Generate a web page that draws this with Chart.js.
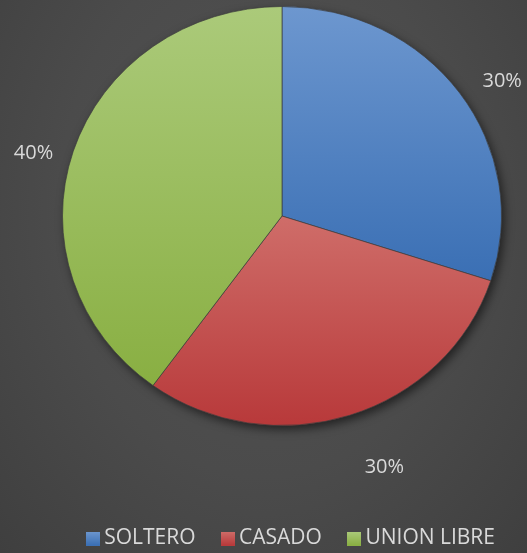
<!DOCTYPE html>
<html>
<head>
<meta charset="utf-8">
<script src="https://cdn.jsdelivr.net/npm/chart.js"></script>
<style>
  html, body { margin: 0; padding: 0; width: 527px; height: 553px; overflow: hidden; }
  body { background: radial-gradient(ellipse at 50% 38%, #535353 0%, #4b4b4b 55%, #3f3f3f 100%); }
  canvas { display: block; }
</style>
</head>
<body>
<canvas id="myChart" width="527" height="559"></canvas>
<script>
// data
var categories = ["SOLTERO", "CASADO", "UNION LIBRE"];
var values = [30, 30, 40];

// slice colours (light at the top of each slice, dark at its bottom)
var lightColors = ["#6d97cf", "#cf6d69", "#abca7a"];
var darkColors = ["#3a6fb4", "#b8393a", "#89af42"];

var total = values.reduce(function (a, b) { return a + b; }, 0);

function sliceGradient(c) {
  var chart = c.chart, area = chart.chartArea, i = c.dataIndex;
  if (!area || i === undefined) return darkColors[i || 0];
  var cy = (area.top + area.bottom) / 2;
  var r = Math.min(area.width, area.height) / 2;
  var before = 0;
  for (var k = 0; k < i; k++) before += values[k];
  var a0 = -Math.PI / 2 + before / total * Math.PI * 2;
  var a1 = a0 + values[i] / total * Math.PI * 2;
  var ys = [cy, cy + r * Math.sin(a0), cy + r * Math.sin(a1)];
  [Math.PI / 2, Math.PI * 3 / 2, -Math.PI / 2].forEach(function (a) {
    if (a >= a0 && a <= a1) ys.push(cy + r * Math.sin(a));
  });
  var g = chart.ctx.createLinearGradient(0, Math.min.apply(null, ys), 0, Math.max.apply(null, ys));
  g.addColorStop(0, lightColors[i]);
  g.addColorStop(1, darkColors[i]);
  return g;
}

// little squares for the legend
function legendSquare(i) {
  var cv = document.createElement('canvas');
  cv.width = 14; cv.height = 14;
  var x = cv.getContext('2d');
  var g = x.createLinearGradient(0, 0, 0, 14);
  g.addColorStop(0, lightColors[i]);
  g.addColorStop(1, darkColors[i]);
  x.fillStyle = g;
  x.fillRect(0, 0, 14, 14);
  return cv;
}

// the reference pie is a bit flatter than a circle
var squash = {
  id: 'squash',
  beforeDatasetsDraw: function (chart, args, opts) {
    var arc = chart.getDatasetMeta(0).data[0];
    var ctx = chart.ctx;
    var top = arc.y - arc.outerRadius;
    ctx.save();
    ctx.translate(0, top);
    ctx.scale(1, opts.factor);
    ctx.translate(0, -top);
    ctx.save();
    ctx.shadowColor = 'rgba(0,0,0,0.55)';
    ctx.shadowBlur = 10;
    ctx.shadowOffsetX = 3;
    ctx.shadowOffsetY = 4;
    ctx.beginPath();
    ctx.arc(arc.x, arc.y, arc.outerRadius, 0, Math.PI * 2);
    ctx.fillStyle = '#444444';
    ctx.fill();
    ctx.restore();
  },
  afterDatasetsDraw: function (chart) {
    chart.ctx.restore();
  }
};

var pctLabels = {
  id: 'pctLabels',
  afterDatasetsDraw: function (chart, args, opts) {
    var ctx = chart.ctx;
    var meta = chart.getDatasetMeta(0);
    ctx.save();
    ctx.font = '20px "Open Sans"';
    ctx.fillStyle = opts.color;
    ctx.textAlign = 'left';
    ctx.textBaseline = 'alphabetic';
    meta.data.forEach(function (arc, i) {
      var p = arc.getProps(['x', 'y', 'startAngle', 'endAngle', 'outerRadius'], true);
      var mid = (p.startAngle + p.endAngle) / 2;
      var dx = Math.cos(mid), dy = Math.sin(mid);
      var a = mid + opts.shift[i] * Math.PI / 180;
      var d = p.outerRadius + opts.pads[i];
      var top = p.y - p.outerRadius;
      var ax = p.x + d * Math.cos(a);
      var ay = top + opts.factor * (p.outerRadius + d * Math.sin(a));
      var text = Math.round(values[i] / total * 100) + '%';
      var m = ctx.measureText(text);
      var w = m.actualBoundingBoxLeft + m.actualBoundingBoxRight;
      var tx, ty;
      if (dx > 0.3) tx = ax + m.actualBoundingBoxLeft;
      else if (dx < -0.3) tx = ax - m.actualBoundingBoxRight;
      else tx = ax - w / 2 + m.actualBoundingBoxLeft;
      if (dy > 0.3) ty = ay + m.actualBoundingBoxAscent;
      else if (dy < -0.3) ty = ay - m.actualBoundingBoxDescent;
      else ty = ay + (m.actualBoundingBoxAscent - m.actualBoundingBoxDescent) / 2;
      ctx.fillText(text, tx, ty);
    });
    ctx.restore();
  }
};

function draw() {
  new Chart(document.getElementById("myChart"), {
    type: 'pie',
    data: {
      labels: categories,
      datasets: [{
        data: values,
        backgroundColor: sliceGradient,
        borderColor: 'rgba(60,60,60,0.7)',
        borderWidth: 1
      }]
    },
    plugins: [squash, pctLabels],
    options: {
      responsive: false,
      animation: false,
      layout: { padding: { top: 6, left: 38, right: 1, bottom: 0 } },
      plugins: {
        squash: { factor: 0.9545 },
        pctLabels: { color: '#d9d9d9', pads: [22, 48, 17.5], shift: [2.1, 0, -3.4], factor: 0.9545 },
        tooltip: { enabled: false },
        legend: {
          position: 'bottom',
          align: 'end',
          title: { display: true, text: ' ', font: { size: 10 }, padding: { top: 39, bottom: 0 } },
          labels: {
            usePointStyle: true,
            pointStyleWidth: 2,
            boxHeight: 14,
            padding: 31,
            color: '#d9d9d9',
            font: { family: 'Open Sans', size: 21 },
            generateLabels: function () {
              return categories.map(function (c, i) {
                return { text: c, pointStyle: legendSquare(i), fillStyle: darkColors[i], strokeStyle: darkColors[i], lineWidth: 0, fontColor: '#d9d9d9', index: i };
              });
            }
          }
        }
      }
    }
  });
}

if (document.fonts && document.fonts.load) {
  document.fonts.load('20px "Open Sans"').then(draw, draw);
} else {
  draw();
}
</script>
</body>
</html>
